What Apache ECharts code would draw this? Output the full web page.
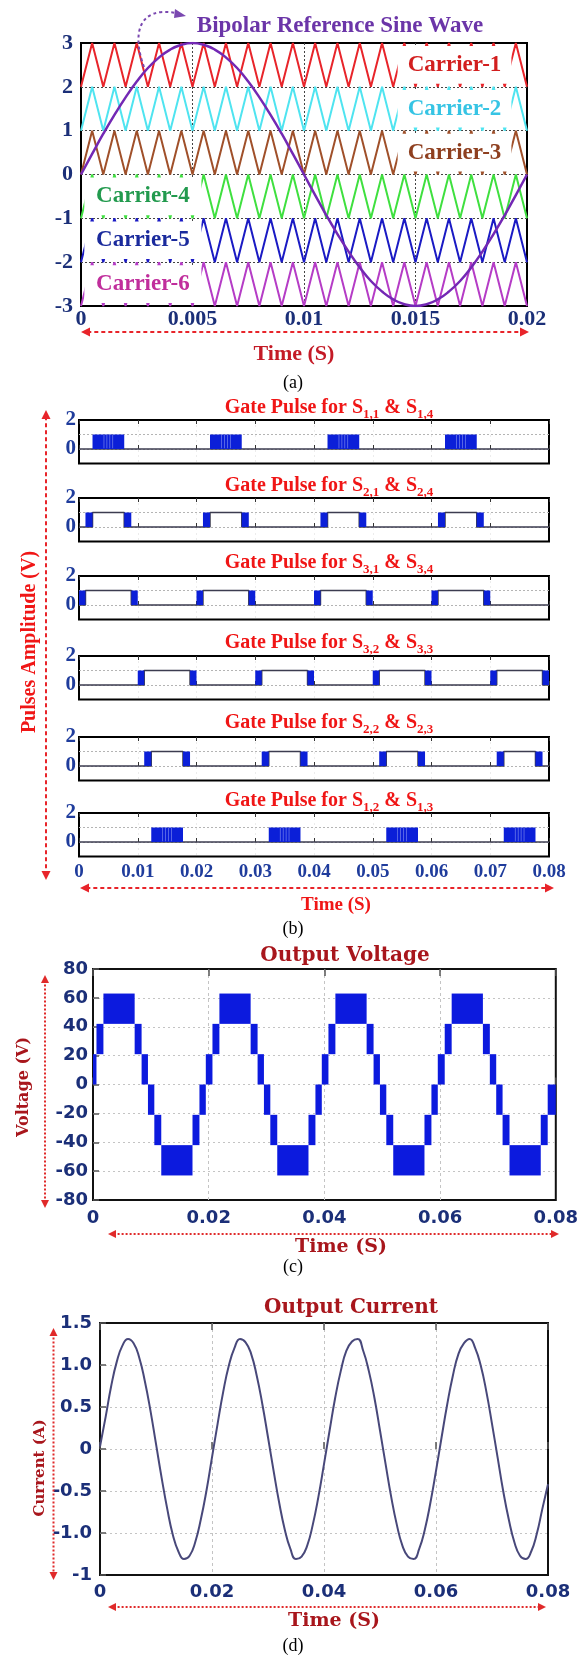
<!DOCTYPE html>
<html>
<head>
<meta charset="utf-8">
<script src="https://cdn.jsdelivr.net/npm/echarts@6/dist/echarts.min.js"></script>
<style>
body { margin: 0; background: #fff; }
#main { width: 581px; height: 1663px; }
</style>
</head>
<body>
<div id="main"></div>
<script>
// ---------- (a) carriers + reference sine, time in ms ----------
var carrierTime = [0,0.5,1,1.5,2,2.5,3,3.5,4,4.5,5,5.5,6,6.5,7,7.5,8,8.5,9,9.5,10,
  10.5,11,11.5,12,12.5,13,13.5,14,14.5,15,15.5,16,16.5,17,17.5,18,18.5,19,19.5,20];
var carrierShape = [0,1,0,1,0,1,0,1,0,1,0,1,0,1,0,1,0,1,0,1,0,1,0,1,0,1,0,1,0,1,0,1,0,1,0,1,0,1,0,1,0];
var carrierBase = [2, 1, 0, -1, -2, -3];
var carrierNames = ['Carrier-1', 'Carrier-2', 'Carrier-3', 'Carrier-4', 'Carrier-5', 'Carrier-6'];
var refSine = [0,0.47,0.93,1.36,1.76,2.12,2.43,2.67,2.85,2.96,3,2.96,2.85,2.67,2.43,2.12,1.76,1.36,0.93,0.47,0,
  -0.47,-0.93,-1.36,-1.76,-2.12,-2.43,-2.67,-2.85,-2.96,-3,-2.96,-2.85,-2.67,-2.43,-2.12,-1.76,-1.36,-0.93,-0.47,0];
// where the carrier name boxes sit (ms)
var labelSpan = [[14.2,19.3],[14.2,19.3],[14.2,19.3],[0.15,5.4],[0.15,5.4],[0.15,5.4]];

// ---------- (b) gate pulses, ms ----------
var gateSubs = [['1,1','1,4'],['2,1','2,4'],['3,1','3,4'],['3,2','3,3'],['2,2','2,3'],['1,2','1,3']];
var gateBurst = [
  [[2.3,7.7],[22.3,27.7],[42.3,47.7],[62.3,67.7]],
  [[1.1,2.3],[7.7,8.9],[21.1,22.3],[27.7,28.9],[41.1,42.3],[47.7,48.9],[61.1,62.3],[67.7,68.9]],
  [[0,1.1],[8.9,10],[20,21.1],[28.9,30],[40,41.1],[48.9,50],[60,61.1],[68.9,70]],
  [[10,11.1],[18.9,20],[30,31.1],[38.9,40],[50,51.1],[58.9,60],[70,71.1],[78.9,80]],
  [[11.1,12.3],[17.7,18.9],[31.1,32.3],[37.7,38.9],[51.1,52.3],[57.7,58.9],[71.1,72.3],[77.7,78.9]],
  [[12.3,17.7],[32.3,37.7],[52.3,57.7],[72.3,77.7]]
];
var gateFlat = [
  [],
  [[2.3,7.7],[22.3,27.7],[42.3,47.7],[62.3,67.7]],
  [[1.1,8.9],[21.1,28.9],[41.1,48.9],[61.1,68.9]],
  [[11.1,18.9],[31.1,38.9],[51.1,58.9],[71.1,78.9]],
  [[12.3,17.7],[32.3,37.7],[52.3,57.7],[72.3,77.7]],
  []
];
// short off-notches seen inside the S1 bursts
var gateNotch = [
  [4.2,4.7,5.2,5.7,24.2,24.7,25.2,25.7,44.2,44.7,45.2,45.7,64.2,64.7,65.2,65.7],
  [], [], [], [],
  [14.2,14.7,15.2,15.7,34.2,34.7,35.2,35.7,54.2,54.7,55.2,55.7,74.2,74.7,75.2,75.7]
];

// ---------- (c) output voltage bands ----------
var voltEdges = [0,0.6,1.8,7.2,8.4,9.5,10.6,11.8,17.2,18.4,19.5,
  20.65,21.85,27.25,28.45,29.55,30.65,31.85,37.25,38.45,39.55,
  40.7,41.9,47.3,48.5,49.6,50.7,51.9,57.3,58.5,59.6,
  60.8,62,67.4,68.6,69.7,70.8,72,77.4,78.6,80];
var voltLow = [0,21,42,21,0,-21,-42,-63,-42,-21,
  0,21,42,21,0,-21,-42,-63,-42,-21,
  0,21,42,21,0,-21,-42,-63,-42,-21,
  0,21,42,21,0,-21,-42,-63,-42,-21];
var voltStep = 21;

// ---------- (d) output current ----------
var currentTime = [0,1,2,3,4,5,6,7,8,9,10,11,12,13,14,15,16,17,18,19,20,21,22,23,24,25,26,27,28,29,30,
  31,32,33,34,35,36,37,38,39,40,41,42,43,44,45,46,47,48,49,50,51,52,53,54,55,56,57,58,59,60,
  61,62,63,64,65,66,67,68,69,70,71,72,73,74,75,76,77,78,79,80];
var currentVal = [0.03,0.38,0.75,1.04,1.23,1.31,1.26,1.09,0.81,0.46,0.06,-0.34,-0.71,-1.02,-1.22,-1.31,-1.27,-1.11,-0.84,-0.5,
  -0.1,0.3,0.68,0.99,1.2,1.31,1.27,1.13,0.87,0.53,0.14,-0.26,-0.64,-0.96,-1.19,-1.31,-1.28,-1.15,-0.9,-0.57,
  -0.18,0.22,0.61,0.93,1.17,1.28,1.31,1.17,0.93,0.61,0.22,-0.18,-0.57,-0.9,-1.15,-1.28,-1.31,-1.19,-0.96,-0.64,
  -0.26,0.14,0.53,0.87,1.13,1.26,1.31,1.2,0.99,0.68,0.3,-0.1,-0.5,-0.84,-1.11,-1.27,-1.31,-1.22,-1.01,-0.71,-0.42];

var carrierColors = ['#e8242a', '#4fe4f0', '#a0502a', '#3fe03f', '#1a1ac4', '#b53cc6'];
var carrierText = ['#d21e1e', '#36c4e4', '#8e3f1f', '#229a4e', '#1a2a9c', '#c02e9c'];
var red = '#e8242a', darkRed = '#a8161c', navy = '#1b2f78';
var serif = 'Liberation Serif', slab = 'DejaVu Serif', sans = 'DejaVu Sans';

function secLabel(v) { return v === 0 ? '0' : String(+(v / 1000).toFixed(3)); }

function rectItem(color) {
  return function (params, api) {
    var p0 = api.coord([api.value(0), api.value(3)]);
    var p1 = api.coord([api.value(1), api.value(2)]);
    return { type: 'rect', shape: { x: p0[0], y: p0[1], width: p1[0] - p0[0], height: p1[1] - p0[1] },
      style: { fill: color } };
  };
}

function txt(x, y, text, font, color, rot) {
  return { type: 'text', x: x, y: y, rotation: rot || 0, z: 20,
    style: { text: text, font: font, fill: color, align: 'center', verticalAlign: 'middle',
      textAlign: 'center', textVerticalAlign: 'middle' } };
}

function arrow(x1, y1, x2, y2, color, dash, w, head) {
  var dx = x2 - x1, dy = y2 - y1, len = Math.sqrt(dx * dx + dy * dy);
  var ux = dx / len, uy = dy / len, nx = -uy, ny = ux;
  function tri(px, py, sx, sy) {
    return { type: 'polygon', z: 20, style: { fill: color },
      shape: { points: [[px, py],
        [px - sx * head + nx * head * 0.5, py - sy * head + ny * head * 0.5],
        [px - sx * head - nx * head * 0.5, py - sy * head - ny * head * 0.5]] } };
  }
  return [
    { type: 'line', z: 20, shape: { x1: x1 + ux * head * 0.7, y1: y1 + uy * head * 0.7, x2: x2 - ux * head * 0.7, y2: y2 - uy * head * 0.7 },
      style: { stroke: color, lineWidth: w, lineDash: dash } },
    tri(x1, y1, -ux, -uy), tri(x2, y2, ux, uy)
  ];
}

var grids = [], xAxes = [], yAxes = [], series = [];

// ---- (a)
grids.push({ left: 81, top: 43, width: 446, height: 263, show: true, borderColor: '#000', borderWidth: 2 });
xAxes.push({ type: 'value', gridIndex: 0, min: 0, max: 20, interval: 5,
  axisLine: { show: false }, axisTick: { show: false },
  splitLine: { showMinLine: false, showMaxLine: false, lineStyle: { color: '#444', type: [2, 2], width: 1 } },
  axisLabel: { formatter: secLabel, color: navy, fontFamily: serif, fontWeight: 'bold', fontSize: 22, margin: 2 } });
yAxes.push({ type: 'value', gridIndex: 0, min: -3, max: 3, interval: 1,
  axisLine: { show: false }, axisTick: { show: false },
  splitLine: { showMinLine: false, showMaxLine: false, lineStyle: { color: '#444', type: [2, 2], width: 1 } },
  axisLabel: { color: navy, fontFamily: serif, fontWeight: 'bold', fontSize: 22, margin: 8 } });
carrierBase.forEach(function (b, i) {
  series.push({ type: 'line', xAxisIndex: 0, yAxisIndex: 0, symbol: 'none', z: 2,
    data: carrierTime.map(function (t, k) { return [t, b + carrierShape[k]]; }),
    lineStyle: { color: carrierColors[i], width: 2 } });
});
series.push({ type: 'custom', xAxisIndex: 0, yAxisIndex: 0, z: 3,
  data: labelSpan.map(function (s, i) { return [s[0], s[1], carrierBase[i] + 0.07, carrierBase[i] + 0.93]; }),
  encode: { x: [0, 1], y: [2, 3] },
  renderItem: function (params, api) {
    var i = params.dataIndex;
    var p0 = api.coord([api.value(0), api.value(3)]);
    var p1 = api.coord([api.value(1), api.value(2)]);
    return { type: 'group', children: [
      { type: 'rect', shape: { x: p0[0], y: p0[1], width: p1[0] - p0[0], height: p1[1] - p0[1] }, style: { fill: '#fff' } },
      { type: 'text', x: (p0[0] + p1[0]) / 2, y: (p0[1] + p1[1]) / 2,
        style: { text: carrierNames[i], font: 'bold 23px "' + serif + '"', fill: carrierText[i],
          align: 'center', verticalAlign: 'middle', textAlign: 'center', textVerticalAlign: 'middle' } }
    ] };
  } });
series.push({ type: 'line', xAxisIndex: 0, yAxisIndex: 0, symbol: 'none', smooth: true, z: 4,
  data: carrierTime.map(function (t, k) { return [t, refSine[k]]; }),
  lineStyle: { color: '#7328b4', width: 2.5 } });

// ---- (b)
var gateTops = [420, 498, 576, 656, 737, 813];
gateTops.forEach(function (top, i) {
  var g = i + 1;
  grids.push({ left: 79, top: top, width: 470, height: 43.5, show: true, borderColor: '#000', borderWidth: 2 });
  xAxes.push({ type: 'value', gridIndex: g, min: 0, max: 80, interval: 10,
    axisLine: { show: false },
    axisTick: { inside: true, length: 4, lineStyle: { color: '#333' } },
    splitLine: { showMinLine: false, showMaxLine: false, lineStyle: { color: '#ececec', type: [2, 3] } },
    axisLabel: { show: i === 5, formatter: secLabel, color: '#1f3c9c', fontFamily: serif, fontWeight: 'bold', fontSize: 19, margin: 6 } });
  yAxes.push({ type: 'value', gridIndex: g, min: -1, max: 2, interval: 1,
    axisLine: { show: false }, axisTick: { show: false },
    splitLine: { showMinLine: false, showMaxLine: false, lineStyle: { color: '#b4b4b4', type: [2, 2] } },
    axisLabel: { formatter: function (v) { return (v === 0 || v === 2) ? String(v) : ''; },
      color: '#1f3c9c', fontFamily: serif, fontWeight: 'bold', fontSize: 21, margin: 3 } });
  var trace = [[0, 0]];
  gateFlat[i].forEach(function (f) { trace.push([f[0], 0], [f[0], 1], [f[1], 1], [f[1], 0]); });
  trace.push([80, 0]);
  series.push({ type: 'line', xAxisIndex: g, yAxisIndex: g, symbol: 'none', z: 2, data: trace,
    lineStyle: { color: '#3c3c50', width: 1.5 } });
  series.push({ type: 'custom', xAxisIndex: g, yAxisIndex: g, z: 3,
    data: gateBurst[i].map(function (b) { return [b[0], b[1], 0, 1]; }),
    encode: { x: [0, 1], y: [2, 3] }, renderItem: rectItem('#0b1fd8') });
  if (gateNotch[i].length) {
    series.push({ type: 'custom', xAxisIndex: g, yAxisIndex: g, z: 4,
      data: gateNotch[i].map(function (t) { return [t, t + 0.1, 0.05, 0.97]; }),
      encode: { x: [0, 1], y: [2, 3] }, renderItem: rectItem('#8a96f0') });
  }
});

// ---- (c)
grids.push({ left: 93, top: 969, width: 464, height: 231, show: true, borderColor: '#111', borderWidth: 2 });
xAxes.push({ type: 'value', gridIndex: 7, min: 0, max: 80, interval: 20,
  axisLine: { show: false },
  axisTick: { inside: true, length: 7, lineStyle: { color: '#555', width: 1.5 } },
  splitLine: { showMinLine: false, showMaxLine: false, lineStyle: { color: '#c4c4c4', type: [3, 3] } },
  axisLabel: { formatter: secLabel, color: navy, fontFamily: sans, fontWeight: 'bold', fontSize: 18, margin: 9 } });
yAxes.push({ type: 'value', gridIndex: 7, min: -80, max: 80, interval: 20,
  axisLine: { show: false },
  axisTick: { inside: true, length: 6, lineStyle: { color: '#555', width: 1.5 } },
  splitLine: { showMinLine: false, showMaxLine: false, lineStyle: { color: '#c4c4c4', type: [2, 3] } },
  axisLabel: { color: navy, fontFamily: sans, fontWeight: 'bold', fontSize: 18, margin: 5 } });
series.push({ type: 'custom', xAxisIndex: 7, yAxisIndex: 7, z: 3,
  data: voltLow.map(function (lo, k) { return [voltEdges[k], voltEdges[k + 1], lo, lo + voltStep]; }),
  encode: { x: [0, 1], y: [2, 3] }, renderItem: rectItem('#0c1ade') });

// ---- (d)
grids.push({ left: 100, top: 1323, width: 448, height: 252, show: true, borderColor: '#111', borderWidth: 2 });
xAxes.push({ type: 'value', gridIndex: 8, min: 0, max: 80, interval: 20,
  axisLine: { show: false },
  axisTick: { inside: true, length: 7, lineStyle: { color: '#555', width: 1.5 } },
  splitLine: { showMinLine: false, showMaxLine: false, lineStyle: { color: '#c4c4c4', type: [3, 3] } },
  axisLabel: { formatter: secLabel, color: navy, fontFamily: sans, fontWeight: 'bold', fontSize: 18, margin: 8 } });
yAxes.push({ type: 'value', gridIndex: 8, min: -1.5, max: 1.5, interval: 0.5,
  axisLine: { show: false },
  axisTick: { inside: true, length: 6, lineStyle: { color: '#555', width: 1.5 } },
  splitLine: { showMinLine: false, showMaxLine: false, lineStyle: { color: '#c4c4c4', type: [2, 3] } },
  axisLabel: { formatter: function (v) {
      if (v === -1.5) return '-1';
      if (v === 0) return '0';
      return v.toFixed(1);
    }, color: navy, fontFamily: sans, fontWeight: 'bold', fontSize: 18, margin: 8 } });
series.push({ type: 'line', xAxisIndex: 8, yAxisIndex: 8, symbol: 'none', smooth: true, z: 3,
  data: currentTime.map(function (t, k) { return [t, currentVal[k]]; }),
  lineStyle: { color: '#48487a', width: 2 } });

// tick marks along the top edge of (b), (c), (d)
for (var g = 1; g <= 8; g++) {
  xAxes.push({ type: 'value', gridIndex: g, position: 'top', min: 0, max: 80, interval: g <= 6 ? 10 : 20,
    axisLine: { show: false }, splitLine: { show: false }, axisLabel: { show: false },
    axisTick: { inside: true, length: g <= 6 ? 4 : 7, lineStyle: { color: g <= 6 ? '#333' : '#555', width: g <= 6 ? 1 : 1.5 } } });
}

// ---- text, arrows
var gfx = [];
var serifB = function (px) { return 'bold ' + px + 'px "' + serif + '"'; };
var slabB = function (px) { return 'bold ' + px + 'px "' + slab + '"'; };

gfx.push(txt(340, 26, 'Bipolar Reference Sine Wave', serifB(23), '#6b35a8'));
gfx.push({ type: 'bezierCurve', z: 20,
  shape: { x1: 144, y1: 67, cpx1: 132, cpy1: 34, cpx2: 138, cpy2: 6, x2: 176, y2: 13 },
  style: { stroke: '#7a48b0', lineWidth: 2, lineDash: [3, 3], fill: null } });
gfx.push({ type: 'polygon', z: 20, style: { fill: '#7a48b0' }, shape: { points: [[186, 16], [175, 9], [174, 18]] } });
gfx = gfx.concat(arrow(81, 332, 529, 332, red, [4, 3], 2, 9));
gfx.push(txt(294, 354, 'Time (S)', serifB(22), '#c41a26'));
gfx.push(txt(293, 383, '(a)', '18px "' + serif + '"', '#000'));

var subStyle = { font: serifB(13), fill: '#f01616', verticalAlign: 'bottom', lineHeight: 27 };
var gateTitleY = [408, 486, 563, 643, 723, 801];
gateSubs.forEach(function (s, i) {
  gfx.push({ type: 'text', x: 329, y: gateTitleY[i], z: 20,
    style: { text: 'Gate Pulse for S{s|' + s[0] + '} & S{s|' + s[1] + '}', font: serifB(20), fill: '#f01616',
      lineHeight: 27, rich: { s: subStyle },
      align: 'center', verticalAlign: 'middle', textAlign: 'center', textVerticalAlign: 'middle' } });
});
gfx.push(txt(30, 642, 'Pulses Amplitude (V)', serifB(20), '#f01616', Math.PI / 2));
gfx = gfx.concat(arrow(46, 410, 46, 880, red, [4, 3], 2, 9));
gfx = gfx.concat(arrow(80, 888, 554, 888, red, [4, 3], 2, 9));
gfx.push(txt(336, 905, 'Time (S)', serifB(19), '#f01616'));
gfx.push(txt(293, 929, '(b)', '18px "' + serif + '"', '#000'));

gfx.push(txt(345, 956, 'Output Voltage', slabB(20), darkRed));
gfx.push(txt(24, 1087, 'Voltage (V)', slabB(16), darkRed, Math.PI / 2));
gfx = gfx.concat(arrow(45, 975, 45, 1208, '#e02a2a', [2, 2], 2, 8));
gfx = gfx.concat(arrow(108, 1234, 559, 1234, '#e02a2a', [2, 2], 2, 8));
gfx.push(txt(341, 1247, 'Time (S)', slabB(19), darkRed));
gfx.push(txt(293, 1267, '(c)', '18px "' + serif + '"', '#000'));

gfx.push(txt(351, 1308, 'Output Current', slabB(20), darkRed));
gfx.push(txt(40, 1468, 'Current (A)', slabB(15), darkRed, Math.PI / 2));
gfx = gfx.concat(arrow(53.5, 1328, 53.5, 1580, '#e02a2a', [2, 2], 2, 8));
gfx = gfx.concat(arrow(108, 1607, 546, 1607, '#e02a2a', [2, 2], 2, 8));
gfx.push(txt(334, 1621, 'Time (S)', slabB(19), darkRed));
gfx.push(txt(293, 1646, '(d)', '18px "' + serif + '"', '#000'));

var myChart = echarts.init(document.getElementById('main'));
myChart.setOption({
  animation: false,
  backgroundColor: '#fff',
  grid: grids,
  xAxis: xAxes,
  yAxis: yAxes,
  series: series,
  graphic: gfx
});
</script>
</body>
</html>
